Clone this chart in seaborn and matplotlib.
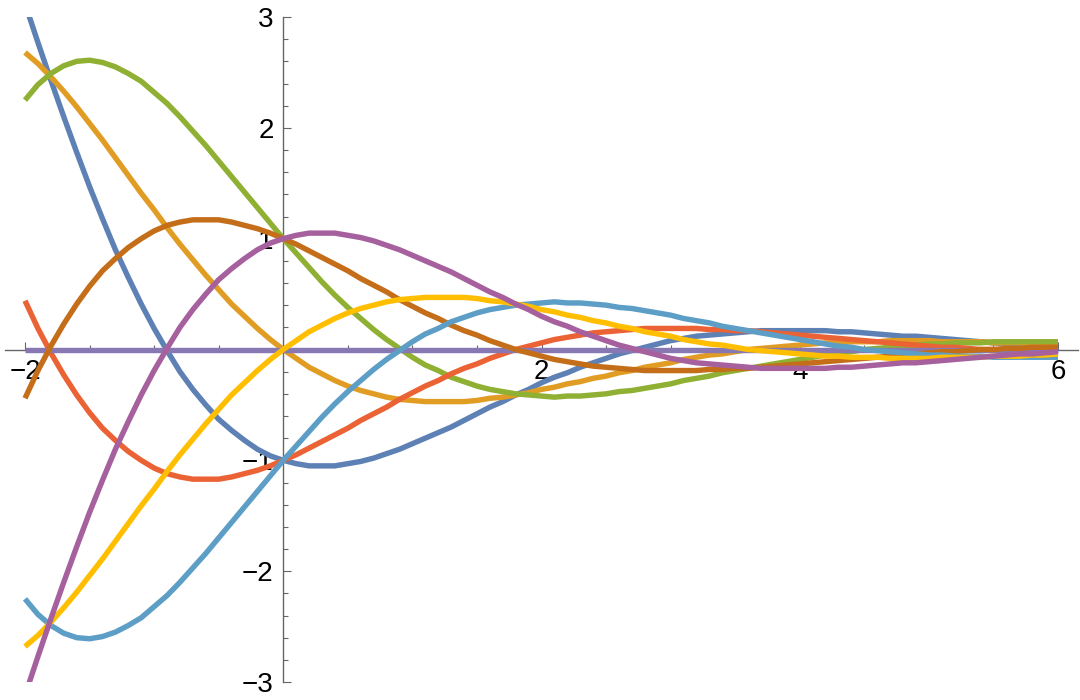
import numpy as np
import pandas as pd
import matplotlib
matplotlib.use("Agg")
import matplotlib.pyplot as plt
from matplotlib.ticker import FixedLocator
import seaborn as sns

# x grid (every 0.1 from -2 to 6)
x = [-2.0, -1.9, -1.8, -1.7, -1.6, -1.5, -1.4, -1.3, -1.2, -1.1,
     -1.0, -0.9, -0.8, -0.7, -0.6, -0.5, -0.4, -0.3, -0.2, -0.1,
     0.0, 0.1, 0.2, 0.3, 0.4, 0.5, 0.6, 0.7, 0.8, 0.9,
     1.0, 1.1, 1.2, 1.3, 1.4, 1.5, 1.6, 1.7, 1.8, 1.9,
     2.0, 2.1, 2.2, 2.3, 2.4, 2.5, 2.6, 2.7, 2.8, 2.9,
     3.0, 3.1, 3.2, 3.3, 3.4, 3.5, 3.6, 3.7, 3.8, 3.9,
     4.0, 4.1, 4.2, 4.3, 4.4, 4.5, 4.6, 4.7, 4.8, 4.9,
     5.0, 5.1, 5.2, 5.3, 5.4, 5.5, 5.6, 5.7, 5.8, 5.9,
     6.0]

# curve values, in drawing order
blue = [3.12, 2.77, 2.43, 2.10, 1.78, 1.47, 1.18, 0.90, 0.65, 0.41,
        0.19, -0.01, -0.20, -0.36, -0.50, -0.63, -0.73, -0.82, -0.90, -0.96,
        -1.00, -1.03, -1.05, -1.05, -1.05, -1.03, -1.01, -0.98, -0.94, -0.90,
        -0.85, -0.80, -0.75, -0.70, -0.64, -0.58, -0.52, -0.47, -0.41, -0.36,
        -0.30, -0.25, -0.21, -0.16, -0.12, -0.08, -0.04, -0.01, 0.02, 0.05,
        0.08, 0.10, 0.12, 0.13, 0.14, 0.15, 0.16, 0.17, 0.17, 0.17,
        0.17, 0.17, 0.17, 0.16, 0.16, 0.15, 0.14, 0.13, 0.12, 0.12,
        0.11, 0.10, 0.09, 0.08, 0.07, 0.06, 0.05, 0.04, 0.04, 0.03,
        0.02]
orange = [2.68, 2.58, 2.46, 2.33, 2.19, 2.04, 1.89, 1.73, 1.57, 1.41,
          1.26, 1.10, 0.95, 0.81, 0.67, 0.54, 0.41, 0.30, 0.19, 0.09,
          0.00, -0.08, -0.16, -0.22, -0.28, -0.33, -0.37, -0.40, -0.43, -0.45,
          -0.46, -0.47, -0.47, -0.47, -0.47, -0.46, -0.44, -0.43, -0.41, -0.39,
          -0.36, -0.34, -0.31, -0.29, -0.26, -0.24, -0.21, -0.19, -0.16, -0.14,
          -0.12, -0.09, -0.07, -0.05, -0.04, -0.02, 0.00, 0.01, 0.02, 0.03,
          0.04, 0.05, 0.06, 0.06, 0.07, 0.07, 0.07, 0.08, 0.08, 0.08,
          0.08, 0.07, 0.07, 0.07, 0.07, 0.06, 0.06, 0.06, 0.05, 0.05,
          0.04]
green = [2.25, 2.39, 2.49, 2.56, 2.60, 2.61, 2.59, 2.55, 2.49, 2.42,
         2.32, 2.22, 2.10, 1.97, 1.84, 1.70, 1.56, 1.42, 1.28, 1.14,
         1.00, 0.87, 0.74, 0.61, 0.49, 0.38, 0.28, 0.18, 0.09, 0.01,
         -0.07, -0.14, -0.19, -0.25, -0.29, -0.33, -0.36, -0.38, -0.40, -0.41,
         -0.42, -0.43, -0.42, -0.42, -0.41, -0.40, -0.38, -0.37, -0.35, -0.33,
         -0.31, -0.28, -0.26, -0.24, -0.21, -0.19, -0.17, -0.15, -0.13, -0.11,
         -0.09, -0.07, -0.05, -0.03, -0.02, 0.00, 0.01, 0.02, 0.03, 0.04,
         0.05, 0.05, 0.06, 0.06, 0.06, 0.07, 0.07, 0.07, 0.07, 0.07,
         0.07]
red = [0.44, 0.19, -0.03, -0.23, -0.41, -0.57, -0.71, -0.82, -0.92, -1.00,
       -1.07, -1.12, -1.15, -1.17, -1.17, -1.17, -1.15, -1.12, -1.09, -1.05,
       -1.00, -0.95, -0.89, -0.83, -0.77, -0.71, -0.64, -0.58, -0.52, -0.45,
       -0.39, -0.33, -0.28, -0.22, -0.17, -0.13, -0.08, -0.04, 0.00, 0.03,
       0.06, 0.09, 0.11, 0.13, 0.15, 0.16, 0.17, 0.18, 0.19, 0.19,
       0.19, 0.19, 0.19, 0.18, 0.18, 0.17, 0.17, 0.16, 0.15, 0.14,
       0.13, 0.12, 0.11, 0.10, 0.09, 0.08, 0.07, 0.06, 0.05, 0.04,
       0.03, 0.02, 0.02, 0.01, 0.00, 0.00, -0.01, -0.01, -0.02, -0.02,
       -0.02]
purple = [0.0] * 81
brown = [-0.44, -0.19, 0.03, 0.23, 0.41, 0.57, 0.71, 0.82, 0.92, 1.00,
         1.07, 1.12, 1.15, 1.17, 1.17, 1.17, 1.15, 1.12, 1.09, 1.05,
         1.00, 0.95, 0.89, 0.83, 0.77, 0.71, 0.64, 0.58, 0.52, 0.45,
         0.39, 0.33, 0.28, 0.22, 0.17, 0.13, 0.08, 0.04, 0.00, -0.03,
         -0.06, -0.09, -0.11, -0.13, -0.15, -0.16, -0.17, -0.18, -0.19, -0.19,
         -0.19, -0.19, -0.19, -0.18, -0.18, -0.17, -0.17, -0.16, -0.15, -0.14,
         -0.13, -0.12, -0.11, -0.10, -0.09, -0.08, -0.07, -0.06, -0.05, -0.04,
         -0.03, -0.02, -0.02, -0.01, 0.00, 0.00, 0.01, 0.01, 0.02, 0.02,
         0.02]
lightblue = [-2.25, -2.39, -2.49, -2.56, -2.60, -2.61, -2.59, -2.55, -2.49, -2.42,
             -2.32, -2.22, -2.10, -1.97, -1.84, -1.70, -1.56, -1.42, -1.28, -1.14,
             -1.00, -0.87, -0.74, -0.61, -0.49, -0.38, -0.28, -0.18, -0.09, -0.01,
             0.07, 0.14, 0.19, 0.25, 0.29, 0.33, 0.36, 0.38, 0.40, 0.41,
             0.42, 0.43, 0.42, 0.42, 0.41, 0.40, 0.38, 0.37, 0.35, 0.33,
             0.31, 0.28, 0.26, 0.24, 0.21, 0.19, 0.17, 0.15, 0.13, 0.11,
             0.09, 0.07, 0.05, 0.03, 0.02, 0.00, -0.01, -0.02, -0.03, -0.04,
             -0.05, -0.05, -0.06, -0.06, -0.06, -0.07, -0.07, -0.07, -0.07, -0.07,
             -0.07]
yellow = [-2.68, -2.58, -2.46, -2.33, -2.19, -2.04, -1.89, -1.73, -1.57, -1.41,
          -1.26, -1.10, -0.95, -0.81, -0.67, -0.54, -0.41, -0.30, -0.19, -0.09,
          0.00, 0.08, 0.16, 0.22, 0.28, 0.33, 0.37, 0.40, 0.43, 0.45,
          0.46, 0.47, 0.47, 0.47, 0.47, 0.46, 0.44, 0.43, 0.41, 0.39,
          0.36, 0.34, 0.31, 0.29, 0.26, 0.24, 0.21, 0.19, 0.16, 0.14,
          0.12, 0.09, 0.07, 0.05, 0.04, 0.02, 0.00, -0.01, -0.02, -0.03,
          -0.04, -0.05, -0.06, -0.06, -0.07, -0.07, -0.07, -0.08, -0.08, -0.08,
          -0.08, -0.07, -0.07, -0.07, -0.07, -0.06, -0.06, -0.06, -0.05, -0.05,
          -0.04]
magenta = [-3.12, -2.77, -2.43, -2.10, -1.78, -1.47, -1.18, -0.90, -0.65, -0.41,
           -0.19, 0.01, 0.20, 0.36, 0.50, 0.63, 0.73, 0.82, 0.90, 0.96,
           1.00, 1.03, 1.05, 1.05, 1.05, 1.03, 1.01, 0.98, 0.94, 0.90,
           0.85, 0.80, 0.75, 0.70, 0.64, 0.58, 0.52, 0.47, 0.41, 0.36,
           0.30, 0.25, 0.21, 0.16, 0.12, 0.08, 0.04, 0.01, -0.02, -0.05,
           -0.08, -0.10, -0.12, -0.13, -0.14, -0.15, -0.16, -0.17, -0.17, -0.17,
           -0.17, -0.17, -0.17, -0.16, -0.16, -0.15, -0.14, -0.13, -0.12, -0.12,
           -0.11, -0.10, -0.09, -0.08, -0.07, -0.06, -0.05, -0.04, -0.04, -0.03,
           -0.02]

names = ["blue", "orange", "green", "red", "purple", "brown", "lightblue", "yellow", "magenta"]
series = [blue, orange, green, red, purple, brown, lightblue, yellow, magenta]
colors = ["#5E81B5", "#E19C24", "#8FB032", "#EB6235", "#8778B3",
          "#C56E1A", "#5D9EC7", "#FFBF00", "#A5609D"]

x_ticks = [-2, 2, 4, 6]
y_ticks = [-3, -2, -1, 1, 2, 3]

df = pd.concat([pd.DataFrame({"x": x, "y": s, "curve": n}) for n, s in zip(names, series)],
               ignore_index=True)

sns.set_style("white")
plt.rcParams["font.family"] = ["Liberation Sans", "DejaVu Sans"]

fig = plt.figure(figsize=(10.8, 7), dpi=100)
ax = fig.add_axes([5 / 1080, 18 / 700, 1073 / 1080, 665 / 700])

sns.lineplot(data=df, x="x", y="y", hue="curve", hue_order=names,
             palette=dict(zip(names, colors)), sort=False, legend=False,
             linewidth=3.9, solid_capstyle="butt", ax=ax, zorder=3)

ax.set_xlim(-2.155, 6.155)
ax.set_ylim(-3, 3)
ax.set_xlabel("")
ax.set_ylabel("")

# Mathematica-style axes through the origin
axis_col = "#666666"
for side in ["top", "right"]:
    ax.spines[side].set_visible(False)
ax.spines["left"].set_position(("data", 0))
ax.spines["bottom"].set_position(("data", 0))
for side in ["left", "bottom"]:
    ax.spines[side].set_color(axis_col)
    ax.spines[side].set_linewidth(1.0)

ax.xaxis.set_major_locator(FixedLocator(x_ticks))
ax.yaxis.set_major_locator(FixedLocator(y_ticks))
ax.xaxis.set_minor_locator(FixedLocator([v / 2 for v in range(-4, 13) if v % 4 != 0]))
ax.yaxis.set_minor_locator(FixedLocator([v / 5 for v in range(-15, 16) if v % 5 != 0]))
ax.tick_params(which="both", direction="in", color=axis_col, width=0.8,
               bottom=True, left=True, labelsize=20, labelcolor="black")
ax.tick_params(which="major", length=6, pad=7)
ax.tick_params(which="minor", length=3.5)

fig.savefig("out.png", dpi=100)
